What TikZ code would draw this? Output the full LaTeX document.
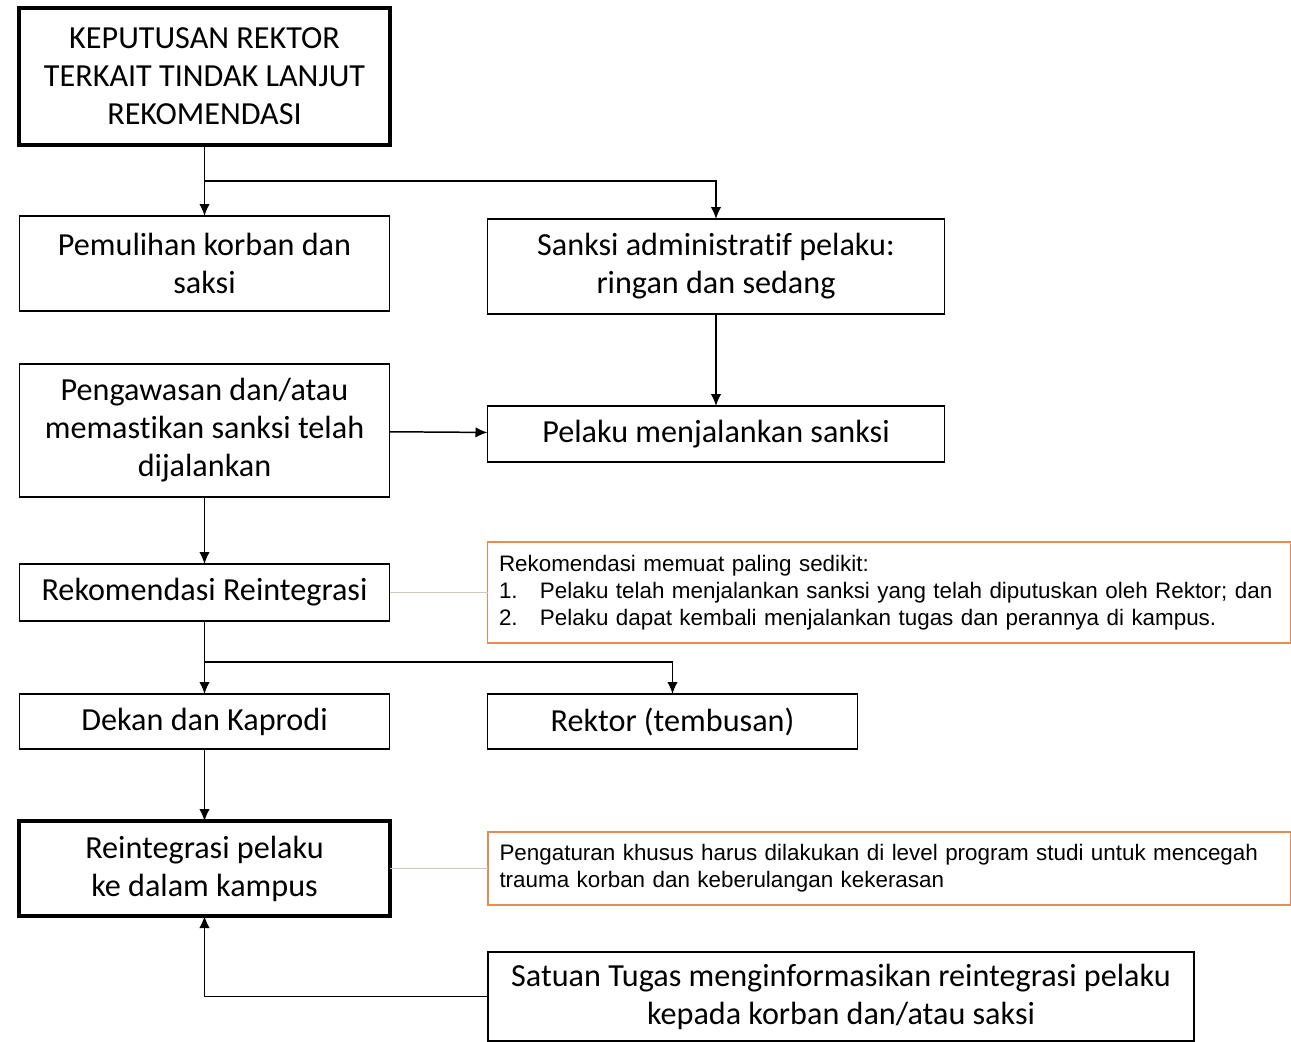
\documentclass[tikz,border=0pt]{standalone}
\usepackage{fontspec}
\setmainfont[Ligatures=NoCommon]{Carlito}
\newfontfamily\notefont{Liberation Sans}
\usepackage{tikz}
\usetikzlibrary{arrows.meta, positioning}
\usepackage{xcolor}
\definecolor{noteorange}{RGB}{232,141,82}
\definecolor{notelink}{RGB}{208,198,188}

\begin{document}
\begin{tikzpicture}[
    >={Latex[length=0.24cm, width=0.21cm]},
    box/.style={draw, line width=1.1pt, outer sep=0pt, align=center, inner sep=2pt,
        font=\fontsize{18.3}{21.6}\selectfont},
    thickbox/.style={box, line width=2.6pt},
    notebox/.style={draw=noteorange, line width=1pt, outer sep=0pt, align=left,
        text width=15.6cm, inner xsep=0.23cm,
        font=\notefont\fontsize{12.75}{15.3}\selectfont},
    flow/.style={->, line width=0.85pt}
    ]
    \useasboundingbox (0,0) rectangle (25.82,-20.84);
    % Add the boxes
        \node[thickbox,
              minimum width=7.42cm, minimum height=2.74cm
              ] (keputusan) at (4.09,-1.53) {KEPUTUSAN REKTOR\\TERKAIT TINDAK LANJUT\\REKOMENDASI};
		\node[box,
			below=1.42cm of keputusan,
			minimum width=7.4cm, minimum height=1.9cm
        	] (pemulihan) {Pemulihan korban dan\\saksi};
		\node[box,
			right=1.96cm of pemulihan, yshift=-0.06cm,
			minimum width=9.14cm, minimum height=1.9cm
        	] (sanksi) {Sanksi administratif pelaku:\\ringan dan sedang};
		\node[box,
			below=1.06cm of pemulihan,
			minimum width=7.4cm, minimum height=2.66cm
        	] (pengawasan) {Pengawasan dan/atau\\memastikan sanksi telah\\dijalankan};
		\node[box,
			below=1.84cm of sanksi,
			minimum width=9.14cm, minimum height=1.12cm
        	] (pelaku) {Pelaku menjalankan sanksi};
		\node[box,
			below=1.34cm of pengawasan,
			minimum width=7.4cm, minimum height=1.14cm
        	] (rekomendasi) {Rekomendasi Reintegrasi};
		\node[notebox,
			right=1.96cm of rekomendasi,
			minimum height=2.02cm
        	] (syarat) {Rekomendasi memuat paling sedikit:\\
        	\makebox[0.82cm][l]{1.}Pelaku telah menjalankan sanksi yang telah diputuskan oleh Rektor; dan\\
        	\makebox[0.82cm][l]{2.}Pelaku dapat kembali menjalankan tugas dan perannya di kampus.};
		\node[box,
			below=1.46cm of rekomendasi,
			minimum width=7.4cm, minimum height=1.1cm
        	] (dekan) {Dekan dan Kaprodi};
		\node[box,
			right=1.96cm of dekan,
			minimum width=7.4cm, minimum height=1.1cm
        	] (rektor) {Rektor (tembusan)};
		\node[thickbox,
			below=1.44cm of dekan,
			minimum width=7.42cm, minimum height=1.9cm
        	] (reintegrasi) {Reintegrasi pelaku\\ke dalam kampus};
		\node[notebox,
			right=1.96cm of reintegrasi,
			minimum height=1.46cm
        	] (khusus) {Pengaturan khusus harus dilakukan di level program studi untuk mencegah\\trauma korban dan keberulangan kekerasan};
		\node[box,
			below right=0.72cm and 1.96cm of reintegrasi,
			minimum width=14.12cm, minimum height=1.78cm
        	] (satgas) {Satuan Tugas menginformasikan reintegrasi pelaku\\kepada korban dan/atau saksi};
		\coordinate[below=0.72cm of keputusan] (split1);
		\coordinate[below=0.82cm of rekomendasi] (split2);

       \draw[line width=0.85pt,
        every edge/.append style={->}]
			(keputusan) edge (pemulihan)
			(sanksi) edge (pelaku)
			(pengawasan) edge (pelaku)
			(pengawasan.south) edge (rekomendasi.north)
			(rekomendasi) edge (dekan)
			(dekan) edge (reintegrasi)
            ;
       \draw[flow] (split1) -| (sanksi);
       \draw[flow] (split2) -| (rektor);
       \draw[flow] (satgas) -| (reintegrasi);
       \draw[notelink, line width=0.8pt] (rekomendasi) -- (syarat);
       \draw[notelink, line width=0.8pt] (reintegrasi) -- (khusus);
\end{tikzpicture}
\end{document}
